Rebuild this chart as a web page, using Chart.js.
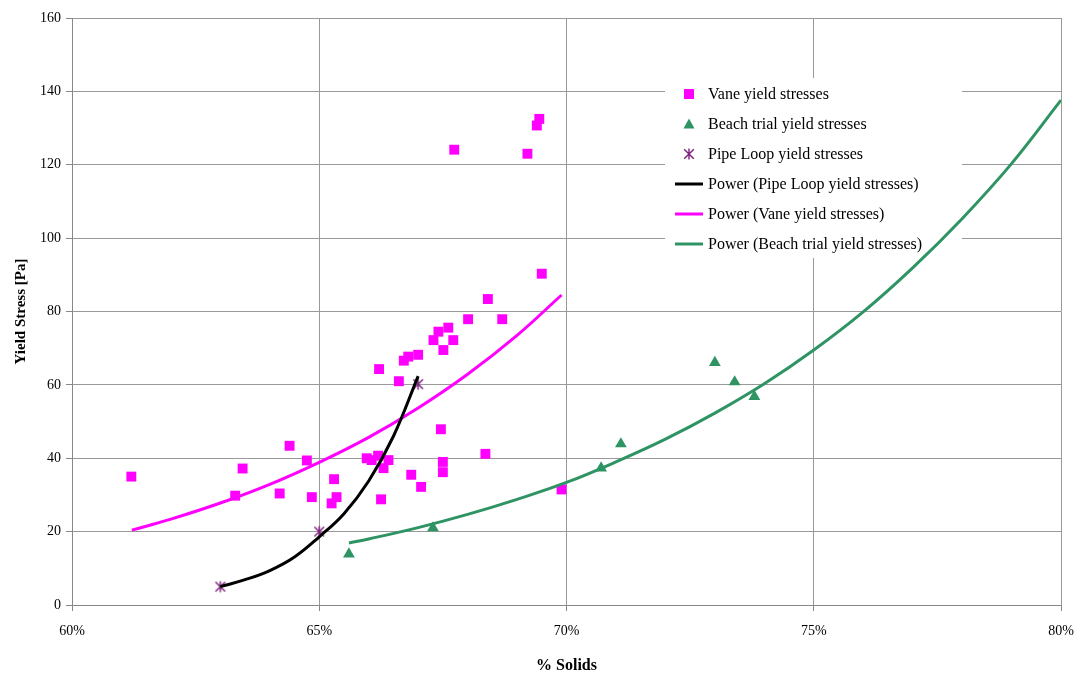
<!DOCTYPE html>
<html>
<head>
<meta charset="utf-8">
<script src="https://cdn.jsdelivr.net/npm/chart.js@4.4.1/dist/chart.umd.min.js"></script>
<style>
html,body{margin:0;padding:0;background:#fff;}
#wrap{width:1077px;height:675px;}
</style>
</head>
<body>
<div id="wrap"><canvas id="c" width="1077" height="675"></canvas></div>
<script>
// ---- data ----
const vaneX = [61.2, 63.3, 63.45, 64.2, 64.4, 64.75, 64.85, 65.25, 65.3, 65.35, 65.96, 66.06, 66.19, 66.4, 66.3, 66.21, 66.25, 66.61, 66.71, 66.8, 67.0, 66.86, 67.06, 67.31, 67.41, 67.61, 67.71, 67.51, 67.46, 67.5, 67.5, 68.01, 68.41, 68.7, 68.36, 67.73, 69.21, 69.4, 69.45, 69.5, 69.9];
const vaneY = [35.0, 29.8, 37.2, 30.4, 43.4, 39.4, 29.4, 27.7, 34.3, 29.4, 40.0, 39.5, 40.7, 39.5, 37.3, 64.3, 28.8, 61.0, 66.6, 67.7, 68.2, 35.5, 32.2, 72.2, 74.5, 75.6, 72.2, 69.5, 47.9, 39.0, 36.2, 77.9, 83.4, 77.9, 41.2, 124.1, 123.0, 130.7, 132.5, 90.3, 31.5];

const beachX = [65.6, 67.3, 70.7, 71.1, 73.0, 73.4, 73.8];
const beachY = [13.9, 21.0, 37.3, 43.9, 66.1, 60.8, 56.8];

const pipeX = [63.0, 65.0, 67.0];
const pipeY = [5.0, 20.0, 60.2];

// trend lines
const pipeTrendX = [63.0, 63.5, 64.0, 64.5, 65.0, 65.5, 66.0, 66.5, 67.0];
const pipeTrendY = [5.0, 6.9, 9.4, 13.1, 18.6, 24.9, 33.8, 46.0, 62.4];

const vaneTrendX = [61.21, 62.0, 63.0, 64.0, 65.0, 66.0, 67.0, 68.0, 69.0, 69.9];
const vaneTrendY = [20.4, 23.4, 27.8, 32.9, 38.9, 45.7, 53.7, 62.9, 73.5, 84.5];

const beachTrendX = [65.6, 66.0, 67.0, 68.0, 69.0, 70.0, 71.0, 72.0, 73.0, 74.0, 75.0, 76.0, 77.0, 78.0, 79.0, 80.0];
const beachTrendY = [16.9, 18.0, 21.1, 24.7, 28.8, 33.4, 39.0, 45.2, 52.3, 60.3, 69.5, 79.9, 91.9, 105.3, 120.3, 137.6];

const xTicks = [60, 65, 70, 75, 80];
const yTicks = [0, 20, 40, 60, 80, 100, 120, 140, 160];

const labels = [
  'Vane yield stresses',
  'Beach trial yield stresses',
  'Pipe Loop yield stresses',
  'Power (Pipe Loop yield stresses)',
  'Power (Vane yield stresses)',
  'Power (Beach trial yield stresses)'
];

// ---- styles ----
const PINK = '#FF00FF';
const GREEN = '#2E9464';
const PURPLE = '#7E1F7E';
const FONT = '"Liberation Serif", "Times New Roman", serif';

function pts(xs, ys){ return xs.map((x,i)=>({x:x, y:ys[i]})); }

// asterisk marker
const star = document.createElement('canvas');
star.width = 14; star.height = 14;
(function(){
  const g = star.getContext('2d');
  g.strokeStyle = PURPLE; g.lineWidth = 1.4;
  g.beginPath();
  g.moveTo(7,1.5); g.lineTo(7,12.5);
  g.moveTo(2.2,2.2); g.lineTo(11.8,11.8);
  g.moveTo(11.8,2.2); g.lineTo(2.2,11.8);
  g.stroke();
})();

const lineDs = (lab, xs, ys, col) => ({
  label: lab, data: pts(xs, ys), showLine: true, borderColor: col, backgroundColor: col,
  borderWidth: 3, pointRadius: 0, pointHoverRadius: 0, tension: 0.4,
  fill: false, order: 1
});

const datasets = [
  {label: labels[0], data: pts(vaneX, vaneY), pointStyle: 'rect', pointRadius: 7, backgroundColor: PINK, borderColor: PINK, borderWidth: 0, showLine: false, order: 2},
  {label: labels[1], data: pts(beachX, beachY), pointStyle: 'triangle', pointRadius: 6.8, backgroundColor: GREEN, borderColor: GREEN, borderWidth: 0, showLine: false, order: 2},
  {label: labels[2], data: pts(pipeX, pipeY), pointStyle: star, pointRadius: 7, backgroundColor: PURPLE, borderColor: PURPLE, showLine: false, order: 2},
  lineDs(labels[3], pipeTrendX, pipeTrendY, '#000000'),
  lineDs(labels[4], vaneTrendX, vaneTrendY, PINK),
  lineDs(labels[5], beachTrendX, beachTrendY, GREEN)
];

const legendPlugin = {
  id: 'innerLegend',
  beforeDatasetsDraw(chart){
    const ctx = chart.ctx;
    ctx.save();
    ctx.fillStyle = '#ffffff';
    ctx.fillRect(665, 78, 297, 180);
    ctx.restore();
  },
  afterDraw(chart){
    const ctx = chart.ctx;
    ctx.save();
    ctx.font = '16px ' + FONT;
    ctx.textBaseline = 'middle';
    ctx.fillStyle = '#000';
    const x0 = 689, tx = 708;
    chart.data.datasets.forEach((ds, i) => {
      const y = 94 + i * 30;
      if (ds.showLine) {
        ctx.strokeStyle = ds.borderColor; ctx.lineWidth = 3;
        ctx.beginPath(); ctx.moveTo(675, y); ctx.lineTo(703, y); ctx.stroke();
      } else if (ds.pointStyle === 'rect') {
        ctx.fillStyle = ds.backgroundColor; ctx.fillRect(x0-5, y-5, 10, 10);
      } else if (ds.pointStyle === 'triangle') {
        ctx.fillStyle = ds.backgroundColor;
        ctx.beginPath(); ctx.moveTo(x0, y-5.5); ctx.lineTo(x0+5.5, y+4.5); ctx.lineTo(x0-5.5, y+4.5); ctx.closePath(); ctx.fill();
      } else {
        ctx.drawImage(star, x0-7, y-7);
      }
      ctx.fillStyle = '#000';
      ctx.fillText(ds.label, tx, y + 1);
    });
    ctx.restore();
  }
};

new Chart(document.getElementById('c'), {
  type: 'scatter',
  data: { datasets },
  plugins: [legendPlugin],
  options: {
    responsive: false,
    animation: false,
    events: [],
    layout: { padding: { top: 18, right: 16, left: 0, bottom: 0 } },
    plugins: { legend: { display: false }, tooltip: { enabled: false }, title: { display: false } },
    scales: {
      x: {
        type: 'linear', min: 60, max: 80,
        afterBuildTicks: s => { s.ticks = xTicks.map(v => ({value: v})); },
        afterFit: s => { s.height = 70; s.paddingRight = 0; s.paddingLeft = 0; },
        grid: { color: '#999999', lineWidth: 1, tickLength: 6, drawTicks: true, tickColor: '#888888' },
        border: { color: '#888888', width: 1 },
        ticks: { color: '#000', font: { family: FONT, size: 14 }, padding: 12, maxRotation: 0, callback: v => v + '%' },
        title: { display: true, text: '% Solids', color: '#000', font: { family: FONT, size: 16, weight: 'bold' }, padding: { top: 0, bottom: 0 } }
      },
      y: {
        type: 'linear', min: 0, max: 160,
        afterBuildTicks: s => { s.ticks = yTicks.map(v => ({value: v})); },
        afterFit: s => { s.width = 72; },
        grid: { color: '#999999', lineWidth: 1, tickLength: 6, drawTicks: true, tickColor: '#888888' },
        border: { color: '#888888', width: 1 },
        ticks: { color: '#000', font: { family: FONT, size: 14 }, padding: 5 },
        title: { display: true, text: 'Yield Stress [Pa]', color: '#000', font: { family: FONT, size: 15, weight: 'bold' }, padding: { top: 12, bottom: 0 } }
      }
    }
  }
});
</script>
</body>
</html>
